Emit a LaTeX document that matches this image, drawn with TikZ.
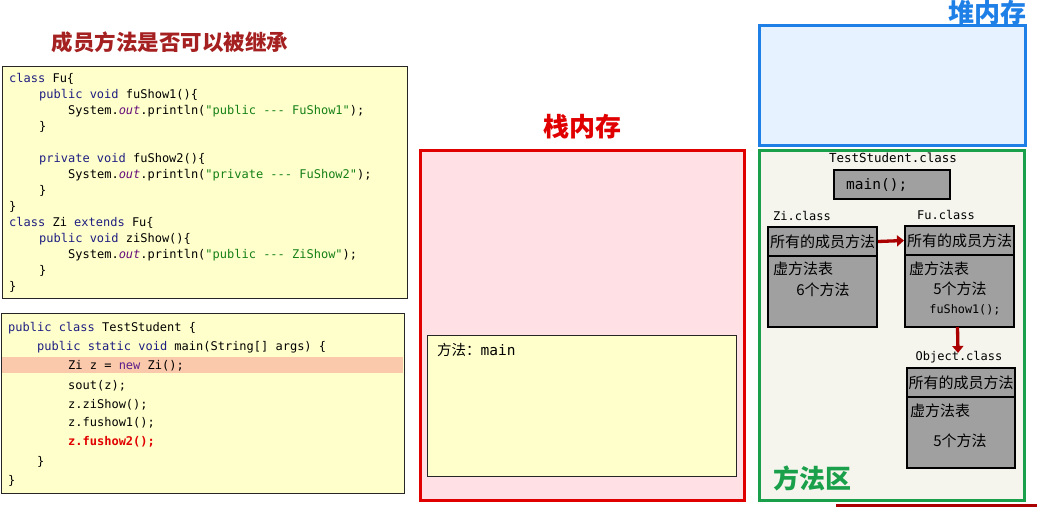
\documentclass[tikz,border=0pt]{standalone}
\usepackage{fontspec}
\setmainfont{Noto Sans CJK SC}
\setmonofont{DejaVu Sans Mono}
\usetikzlibrary{arrows.meta}
\definecolor{titlered}{RGB}{165,32,32}
\definecolor{kwblue}{RGB}{30,30,130}
\definecolor{outpurple}{RGB}{102,14,122}
\definecolor{strgreen}{RGB}{20,128,20}
\definecolor{newpurple}{RGB}{90,30,140}
\definecolor{codebg}{RGB}{255,255,204}
\definecolor{hlband}{RGB}{250,200,170}
\definecolor{stackred}{RGB}{225,0,0}
\definecolor{stackbg}{RGB}{255,224,228}
\definecolor{heapblue}{RGB}{30,127,230}
\definecolor{heapbg}{RGB}{230,242,255}
\definecolor{methgreen}{RGB}{26,160,74}
\definecolor{methbg}{RGB}{245,245,238}
\definecolor{classgray}{RGB}{160,160,160}
\definecolor{arrred}{RGB}{170,0,0}
\newcommand\jkw[1]{\textcolor{kwblue}{#1}}
\newcommand\jstr[1]{\textcolor{strgreen}{#1}}
\newcommand\jout{\textcolor{outpurple}{\itshape out}}
\tikzset{
  region/.style={draw, anchor=north west, inner sep=0pt, outer sep=0pt},
  codebox/.style={region, fill=codebg, draw=black!85, line width=1pt},
  code/.style={anchor=base west, inner sep=0pt, font=\ttfamily\fontsize{12}{14}\selectfont},
  bigtitle/.style={inner sep=0pt, font=\bfseries\fontsize{26}{30}\selectfont},
  clsbox/.style={region, fill=classgray, draw=black, line width=1.2pt},
  cn/.style={inner sep=0pt, font=\fontsize{15}{18}\selectfont},
  lbl/.style={inner sep=0pt, font=\ttfamily\fontsize{12}{14}\selectfont},
  inh/.style={draw=arrred, line width=3.3pt, -{Triangle[length=7pt,width=11pt]}},
}
\begin{document}
\begin{tikzpicture}[x=1pt,y=-1pt]
\useasboundingbox (0,0) rectangle (1037,507);

% title
\node[inner sep=0pt, font=\bfseries\fontsize{21.5}{24}\selectfont, text=titlered] (title) at (170,42) {成员方法是否可以被继承};

% code box 1
\node[codebox, minimum width=405, minimum height=232] (cb1) at (2,66) {};
\node[code] (l1) at (9,82) {\jkw{class} Fu\{};
\node[code] (l2) at (39,98) {\jkw{public} \jkw{void} fuShow1()\{};
\node[code] (l3) at (68,114) {System.\jout.println(\jstr{"public --- FuShow1"});};
\node[code] (l4) at (39,130) {\}};
\node[code] (l5) at (39,162) {\jkw{private} \jkw{void} fuShow2()\{};
\node[code] (l6) at (68,178) {System.\jout.println(\jstr{"private --- FuShow2"});};
\node[code] (l7) at (39,194) {\}};
\node[code] (l8) at (9,210) {\}};
\node[code] (l9) at (9,226) {\jkw{class} Zi \jkw{extends} Fu\{};
\node[code] (l10) at (39,242) {\jkw{public} \jkw{void} ziShow()\{};
\node[code] (l11) at (68,258) {System.\jout.println(\jstr{"public --- ZiShow"});};
\node[code] (l12) at (39,274) {\}};
\node[code] (l13) at (9,290) {\}};

% code box 2
\node[codebox, minimum width=403, minimum height=180] (cb2) at (1,313) {};
\fill[hlband] (2,356.5) rectangle (403,373);
\node[code] (m1) at (8,331) {\jkw{public} \jkw{class} TestStudent \{};
\node[code] (m2) at (37,350) {\jkw{public} \jkw{static} \jkw{void} main(String[] args) \{};
\node[code] (m3) at (68,369) {Zi z = \textcolor{newpurple}{new} Zi();};
\node[code] (m4) at (68,389) {sout(z);};
\node[code] (m5) at (68,408) {z.ziShow();};
\node[code] (m6) at (68,426) {z.fushow1();};
\node[code, text=stackred, font=\ttfamily\bfseries\fontsize{12}{14}\selectfont] (m7) at (68,445) {z.fushow2();};
\node[code] (m8) at (37,465) {\}};
\node[code] (m9) at (8,484) {\}};

% stack
\node[bigtitle, text=stackred] (stacktitle) at (582,127) {栈内存};
\node[region, fill=stackbg, draw=stackred, line width=3pt, minimum width=324, minimum height=350] (stack) at (420,150) {};
\node[region, fill=codebg, draw=black!85, line width=0.9pt, minimum width=309, minimum height=141] (frame) at (427,335) {};
\node[anchor=west, inner sep=0pt, font=\fontsize{14.5}{17}\selectfont] (frametxt) at (437,350) {方法：\ttfamily main};

% heap
\node[bigtitle, text=heapblue] (heaptitle) at (987,12.5) {堆内存};
\node[region, fill=heapbg, draw=heapblue, line width=3pt, minimum width=266, minimum height=120] (heap) at (759,25) {};

% method area
\node[region, fill=methbg, draw=methgreen, line width=3pt, minimum width=265, minimum height=350] (meth) at (759,150) {};
\node[bigtitle, text=methgreen] (methtitle) at (812,478) {方法区};

\node[lbl, font=\ttfamily\fontsize{12.5}{14}\selectfont] (tslbl) at (893,158) {TestStudent.class};
\node[clsbox, minimum width=116, minimum height=29] (mainbox) at (834,170) {};
\node[anchor=west, inner sep=0pt, font=\ttfamily\fontsize{14.5}{17}\selectfont] (maintxt) at (846,185) {main();};

% Zi.class
\node[lbl] (zilbl) at (802,216) {Zi.class};
\node[clsbox, minimum width=109, minimum height=29] (zih) at (768,227) {};
\node[cn] (zihtxt) at (zih.center) {所有的成员方法};
\node[clsbox, minimum width=109, minimum height=71] (zib) at (768,256) {};
\node[cn, anchor=west] (zivt) at (773,269) {虚方法表};
\node[cn] (zin) at (823,290) {6个方法};

% Fu.class
\node[lbl] (fulbl) at (946,215) {Fu.class};
\node[clsbox, minimum width=109, minimum height=29] (fuh) at (905,226) {};
\node[cn] (fuhtxt) at (fuh.center) {所有的成员方法};
\node[clsbox, minimum width=109, minimum height=72] (fub) at (905,255) {};
\node[cn, anchor=west] (fuvt) at (909,269) {虚方法表};
\node[cn] (fun) at (960,289) {5个方法};
\node[lbl, font=\ttfamily\fontsize{11.8}{14}\selectfont] (fus1) at (965,310) {fuShow1();};

% Object.class
\node[lbl] (objlbl) at (959,357) {Object.class};
\node[clsbox, minimum width=108, minimum height=29] (objh) at (907,368) {};
\node[cn] (objhtxt) at (objh.center) {所有的成员方法};
\node[clsbox, minimum width=108, minimum height=71] (objb) at (907,397) {};
\node[cn, anchor=west] (objvt) at (910,411) {虚方法表};
\node[cn] (objn) at (960,441) {5个方法};

% inheritance arrows
\draw[inh] ([xshift=1pt]zih.east) -- ([xshift=-1pt]fuh.west);
\draw[inh] ([xshift=-2pt]fub.south) -- ([xshift=-1pt,yshift=-2pt]objlbl.north);

% partial red line at the bottom edge
\coordinate (rl1) at (836,505);
\coordinate (rl2) at (1037,505);
\draw[draw=arrred, line width=3pt] (rl1) -- (rl2);
\end{tikzpicture}
\end{document}
